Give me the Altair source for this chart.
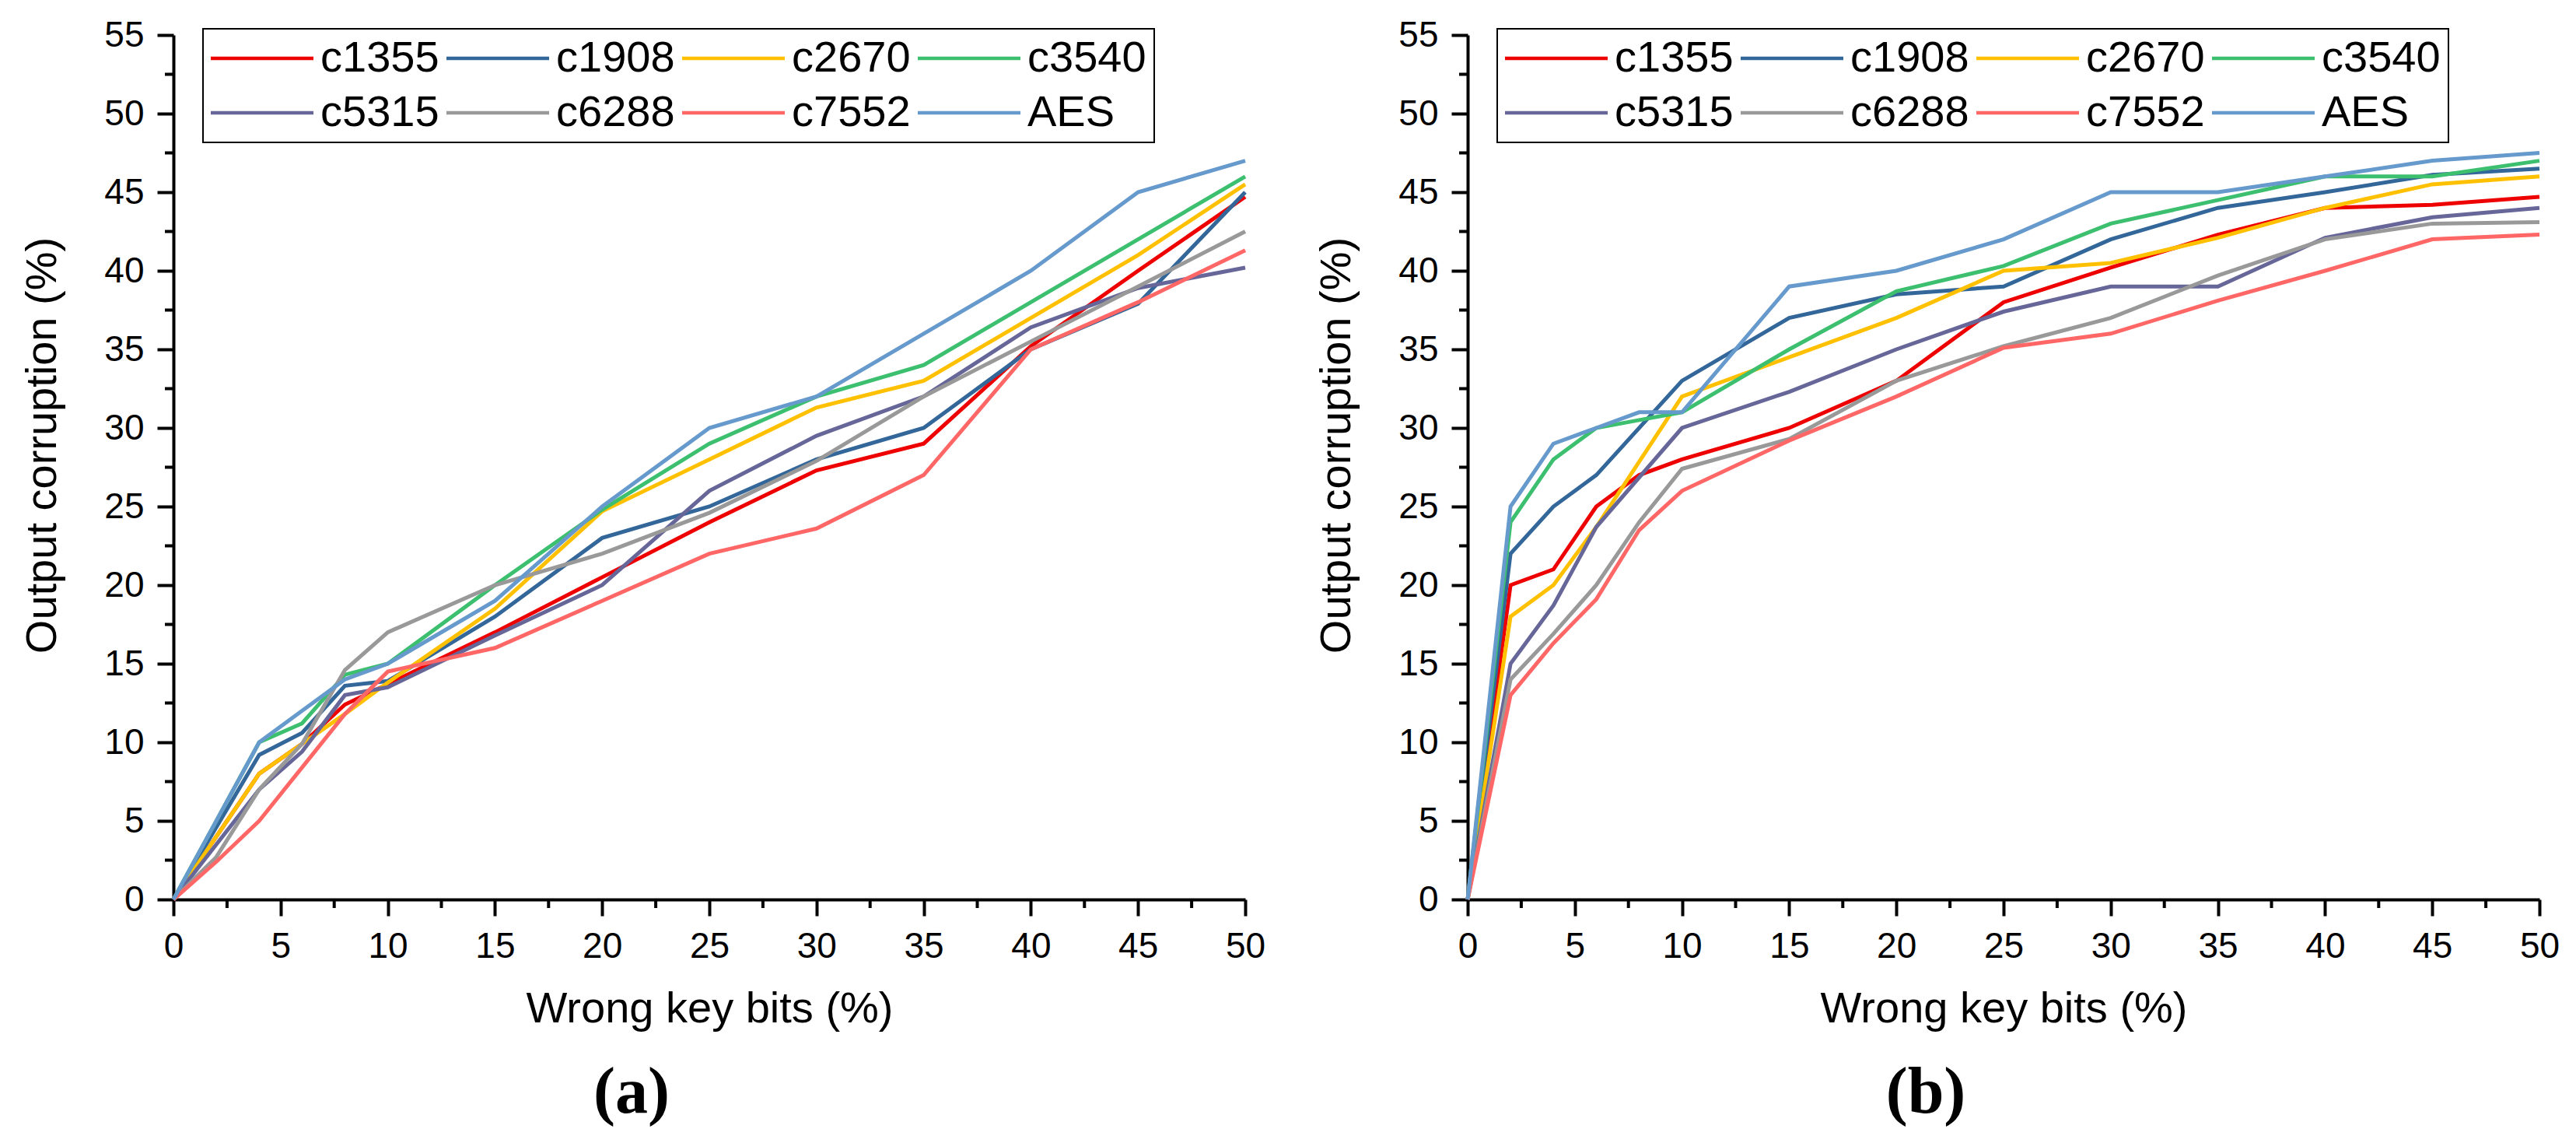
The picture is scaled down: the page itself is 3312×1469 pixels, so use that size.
import altair as alt
import pandas as pd

# ---------------- data ----------------
x_vals = [0, 2, 4, 6, 8, 10, 15, 20, 25, 30, 35, 40, 45, 50]
series = ["c1355", "c1908", "c2670", "c3540", "c5315", "c6288", "c7552", "AES"]
colors = ["#EE0000", "#336699", "#FFC000", "#3CBF6E", "#666699", "#999999", "#FF6666", "#6699CC"]

# panel (a)
a_c1355 = [0, None, 8.0, 9.9, 12.4, 13.7, 17.0, 20.5, 24.0, 27.3, 29.0, 35.2, 40.0, 44.7]
a_c1908 = [0, None, 9.2, 10.6, 13.6, 13.9, 18.0, 23.0, 25.0, 28.0, 30.0, 35.0, 37.9, 45.0]
a_c2670 = [0, None, 8.0, 9.9, 11.8, 13.8, 18.5, 24.7, 28.0, 31.3, 33.0, 37.0, 41.0, 45.5]
a_c3540 = [0, None, 10.0, 11.2, 14.3, 15.0, 20.0, 24.8, 29.0, 32.0, 34.0, 38.0, 42.0, 46.0]
a_c5315 = [0, None, 7.0, 9.4, 13.0, 13.5, 16.8, 20.0, 26.0, 29.5, 32.0, 36.4, 38.9, 40.2]
a_c6288 = [0, 2.7, 7.0, 9.9, 14.6, 17.0, 20.0, 22.0, 24.6, 27.9, 32.0, 35.5, 39.0, 42.5]
a_c7552 = [0, 2.4, 5.0, 8.4, 11.8, 14.5, 16.0, 19.0, 22.0, 23.6, 27.0, 35.0, 38.0, 41.3]
a_aes = [0, None, 10.0, 12.0, 14.0, 15.0, 19.0, 25.0, 30.0, 32.0, 36.0, 40.0, 45.0, 47.0]

# panel (b)
b_c1355 = [0, 20.0, 21.0, 25.0, 27.0, 28.0, 30.0, 33.0, 38.0, 40.2, 42.3, 44.0, 44.2, 44.7]
b_c1908 = [0, 22.0, 25.0, 27.0, None, 33.0, 37.0, 38.5, 39.0, 42.0, 44.0, 45.0, 46.1, 46.5]
b_c2670 = [0, 18.0, 20.0, 23.7, None, 32.0, 34.5, 37.0, 40.0, 40.5, 42.1, 44.0, 45.5, 46.0]
b_c3540 = [0, 24.0, 28.0, 30.0, 30.5, 31.0, 35.0, 38.7, 40.3, 43.0, 44.5, 46.0, 46.0, 47.0]
b_c5315 = [0, 15.0, 18.7, 23.7, None, 30.0, 32.3, 35.0, 37.4, 39.0, 39.0, 42.1, 43.4, 44.0]
b_c6288 = [0, 14.0, 16.9, 20.0, 24.0, 27.4, 29.3, 33.0, 35.2, 37.0, 39.7, 42.0, 43.0, 43.1]
b_c7552 = [0, 13.0, 16.3, 19.1, 23.5, 26.0, 29.2, 32.0, 35.1, 36.0, 38.1, 40.0, 42.0, 42.3]
b_aes = [0, 25.0, 29.0, 30.0, 31.0, 31.0, 39.0, 40.0, 42.0, 45.0, 45.0, 46.0, 47.0, 47.5]

x_major_ticks = [0, 5, 10, 15, 20, 25, 30, 35, 40, 45, 50]
y_major_ticks = [0, 5, 10, 15, 20, 25, 30, 35, 40, 45, 50, 55]
x_minor_ticks = [2.5, 7.5, 12.5, 17.5, 22.5, 27.5, 32.5, 37.5, 42.5, 47.5]
y_minor_ticks = [2.5, 7.5, 12.5, 17.5, 22.5, 27.5, 32.5, 37.5, 42.5, 47.5, 52.5]

x_title = "Wrong key bits (%)"
y_title = "Output corruption (%)"
captions = ["(a)", "(b)"]

panel_a = [a_c1355, a_c1908, a_c2670, a_c3540, a_c5315, a_c6288, a_c7552, a_aes]
panel_b = [b_c1355, b_c1908, b_c2670, b_c3540, b_c5315, b_c6288, b_c7552, b_aes]


def to_df(values_list):
    rows = []
    for name, vals in zip(series, values_list):
        for xv, yv in zip(x_vals, vals):
            if yv is not None:
                rows.append({"series": name, "x": xv, "y": yv})
    return pd.DataFrame(rows)


W, H = 1378, 1111
FONT = "Liberation Sans"

X_AXIS = alt.Axis(
    values=x_major_ticks, tickSize=21, tickWidth=4, tickColor="black",
    domainColor="black", domainWidth=4, labelFontSize=46, labelFont=FONT,
    labelColor="black", labelPadding=17, labelFlush=False, labelOverlap=False,
    titleFontSize=56, titleFont=FONT, titleFontWeight="normal",
    titleColor="black", titlePadding=30, grid=False,
)
Y_AXIS = alt.Axis(
    values=y_major_ticks, tickSize=21, tickWidth=4, tickColor="black",
    domainColor="black", domainWidth=4, labelFontSize=46, labelFont=FONT,
    labelColor="black", labelPadding=17, labelOverlap=False,
    titleFontSize=56, titleFont=FONT, titleFontWeight="normal",
    titleColor="black", titlePadding=50, titleY=527, grid=False,
)
XS = alt.Scale(domain=[0, 50], nice=False)
YS = alt.Scale(domain=[0, 55], nice=False)


def make_panel(values_list, caption):
    df = to_df(values_list)
    legend = alt.Legend(
        title=None, orient="none", legendX=38, legendY=-8, columns=4,
        direction="horizontal",
        symbolType="M-3,0L3,0", symbolSize=1936, symbolStrokeWidth=4.5,
        symbolOffset=38, labelOffset=47, labelFontSize=56, labelFont=FONT,
        labelColor="black", labelLimit=400, rowPadding=14, columnPadding=0,
        padding=10, strokeColor="black",
    )
    lines = alt.Chart(df).mark_line(strokeWidth=5).encode(
        x=alt.X("x:Q", scale=XS, axis=X_AXIS, title=x_title),
        y=alt.Y("y:Q", scale=YS, axis=Y_AXIS, title=y_title),
        color=alt.Color("series:N", sort=series,
                        scale=alt.Scale(domain=series, range=colors),
                        legend=legend),
    )
    xminor = alt.Chart(pd.DataFrame({"v": x_minor_ticks})).mark_rule(
        color="black", strokeWidth=4
    ).encode(
        x=alt.X("v:Q", scale=XS, axis=X_AXIS, title=x_title),
        y=alt.value(H),
        y2=alt.value(H + 11),
    )
    yminor = alt.Chart(pd.DataFrame({"v": y_minor_ticks})).mark_rule(
        color="black", strokeWidth=4
    ).encode(
        y=alt.Y("v:Q", scale=YS, axis=Y_AXIS, title=y_title),
        x=alt.value(-11),
        x2=alt.value(0),
    )
    return alt.layer(lines, xminor, yminor).properties(
        width=W, height=H,
        title=alt.TitleParams(
            caption, orient="bottom", anchor="middle", frame="group",
            dx=-100, offset=40, fontSize=84, font="Liberation Serif",
            fontWeight="bold", color="black",
        ),
    )


pa = make_panel(panel_a, captions[0])
pb = make_panel(panel_b, captions[1])

chart = alt.hconcat(pa, pb, spacing=62).resolve_scale(
    color="independent"
).properties(
    padding={"left": 18, "top": 13, "right": 5, "bottom": 5},
    background="white",
).configure_view(
    stroke="transparent"
).configure_legend(strokeWidth=2)

chart.save("out.html", embed_options={"renderer": "svg", "actions": False})
